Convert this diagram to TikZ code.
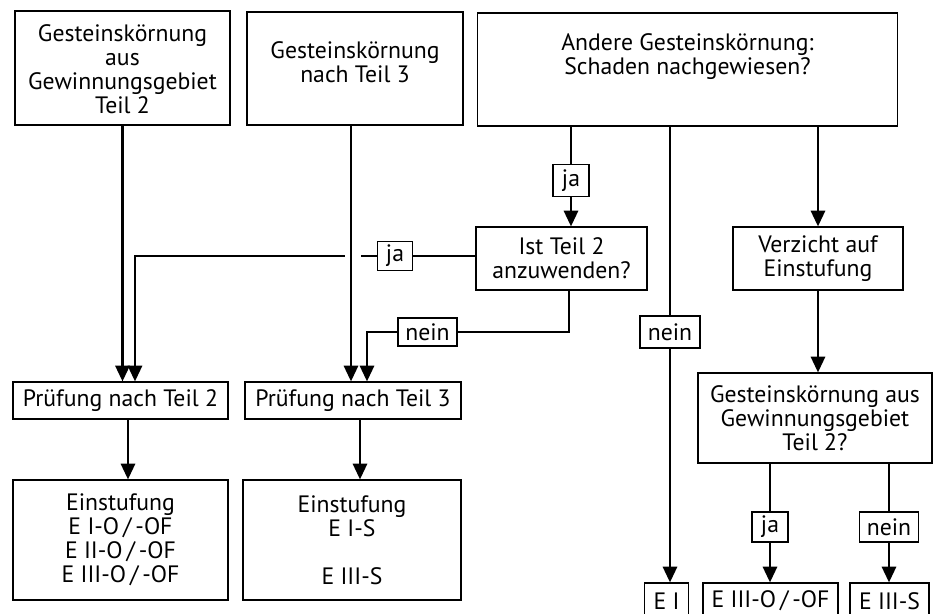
\documentclass[tikz,border=0pt]{standalone}
\usepackage{fontspec}
\setmainfont{PT Sans}
\usetikzlibrary{arrows.meta}
\begin{document}
\begin{tikzpicture}[x=0.02cm,y=-0.02cm,
  font=\fontsize{13.5}{13.6}\selectfont,
  box/.style={draw, line width=0.6pt, inner sep=0pt, align=center},
  tag/.style={draw, line width=0.6pt, inner sep=0pt, fill=white},
  txt/.style={align=center, inner sep=0pt},
  line/.style={line width=1.6pt},
  arr/.style={line width=1.6pt, -{Triangle[width=8pt,length=9pt]}}]
\useasboundingbox (0,0) rectangle (938,614);
\clip (0,0) rectangle (938,614);

% top boxes
\node[box, minimum width=4.30cm, minimum height=2.28cm] (b1) at (122.5,68) {};
\node[txt] (b1t) at (122.5,69) {Gesteinskörnung\\aus\\Gewinnungsgebiet\\Teil 2};
\node[box, minimum width=4.32cm, minimum height=2.26cm] (b2) at (355,68.5) {};
\node[txt] (b2t) at (355,62.5) {Gesteinskörnung\\nach Teil 3};
\node[box, minimum width=8.42cm, minimum height=2.26cm] (b3) at (687.5,69.5) {};
\node[txt] (b3t) at (687.5,57) {Andere Gesteinskörnung:\\Schaden nachgewiesen?};

% middle
\node[box, minimum width=3.42cm, minimum height=1.26cm] (ist) at (561.5,258.5) {Ist Teil 2\\anzuwenden?};
\node[box, minimum width=3.40cm, minimum height=1.26cm] (verz) at (818,258.5) {Verzicht auf\\Einstufung};
\node[box, minimum width=4.68cm, minimum height=1.80cm] (g2) at (815,418) {Gesteinskörnung aus\\Gewinnungsgebiet\\Teil 2?};

\node[box, minimum width=4.30cm, minimum height=0.74cm] (p2) at (120.5,400.5) {Prüfung nach Teil 2};
\node[box, minimum width=4.32cm, minimum height=0.74cm] (p3) at (353,400.5) {Prüfung nach Teil 3};

\node[box, minimum width=4.30cm, minimum height=2.40cm] (e2) at (120.5,540) {Einstufung\\E I-O\,/\,-OF\\E II-O\,/\,-OF\\E III-O\,/\,-OF};
\node[box, minimum width=4.36cm, minimum height=2.40cm] (e3) at (352,540) {Einstufung\\E I-S\\ \\E III-S};

% bottom right boxes
\node[box, minimum width=0.88cm, minimum height=0.72cm] (ei) at (666.5,601) {E I};
\node[box, minimum width=2.70cm, minimum height=0.72cm] (eo) at (770.5,601) {E III-O\,/\,-OF};
\node[box, minimum width=1.58cm, minimum height=0.72cm] (es) at (889.5,601) {E III-S};

% labels
\node[tag, minimum width=0.72cm, minimum height=0.64cm] (ja1) at (571,180.5) {ja};
\node[tag, minimum width=0.70cm, minimum height=0.58cm] (ja2) at (395,256) {ja};
\node[tag, minimum width=1.18cm, minimum height=0.56cm] (nein1) at (427.5,332) {nein};
\node[tag, minimum width=1.20cm, minimum height=0.64cm] (nein2) at (670,332) {nein};
\node[tag, minimum width=0.72cm, minimum height=0.60cm] (ja3) at (770,527) {ja};
\node[tag, minimum width=1.18cm, minimum height=0.60cm] (nein3) at (889,527) {nein};

\coordinate (cja) at (135,256);
\coordinate (cn) at (367,332);

% connectors left
\draw[arr] (b1.south) -- (b1.south |- p2.north);
\draw[arr] ([xshift=-0.08cm]b2.south) -- ([xshift=-0.08cm]b2.south |- p3.north);
\draw[line] (ja2 -| ist.west) -- (ja2);
\draw[line] (ja2.west) -- ++(-16,0);
\draw[arr] ([xshift=-0.64cm]ja2.west) -- (cja) -- (cja |- p2.north);
\draw[line] ([xshift=0.15cm]ist.south) |- (nein1);
\draw[arr] (nein1) -- (cn) -- (cn |- p3.north);
\draw[arr] ([xshift=0.15cm]p2.south) -- ([xshift=0.15cm]p2.south |- e2.north);
\draw[arr] ([xshift=0.14cm]p3.south) -- ([xshift=0.14cm]p3.south |- e3.north);

% connectors right
\draw[line] (ja1 |- b3.south) -- (ja1);
\draw[arr] (ja1) -- (ja1 |- ist.north);
\draw[line] (nein2 |- b3.south) -- (nein2);
\draw[arr] (nein2) -- (nein2 |- ei.north);
\draw[arr] (verz |- b3.south) -- (verz.north);
\draw[arr] (verz.south) -- (verz.south |- g2.north);
\draw[line] (ja3 |- g2.south) -- (ja3);
\draw[arr] (ja3) -- (ja3 |- eo.north);
\draw[line] (nein3 |- g2.south) -- (nein3);
\draw[arr] (nein3) -- (nein3 |- es.north);
\end{tikzpicture}
\end{document}
